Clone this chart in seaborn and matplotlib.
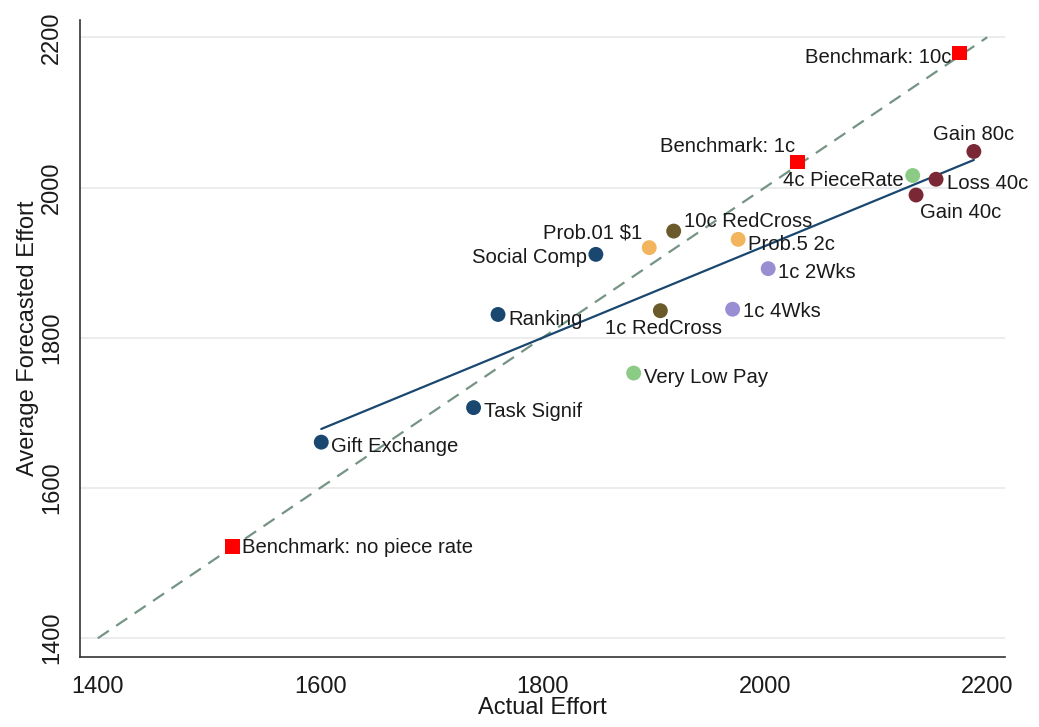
import matplotlib
matplotlib.use("Agg")
import matplotlib.pyplot as plt
import numpy as np
import pandas as pd
import seaborn as sns

# Treatment results: actual effort vs. average forecasted effort
treatments = ["Gift Exchange", "Task Signif", "Ranking", "Social Comp",
              "Very Low Pay", "Prob.01 $1", "1c RedCross", "10c RedCross",
              "1c 4Wks", "Prob.5 2c", "1c 2Wks", "4c PieceRate",
              "Gain 40c", "Loss 40c", "Gain 80c"]
actual = [1601, 1738, 1760, 1848, 1882, 1896, 1906, 1918,
          1971, 1976, 2003, 2133, 2136, 2154, 2188]
forecast = [1661, 1707, 1831, 1911, 1753, 1920, 1836, 1942,
            1838, 1931, 1892, 2016, 1990, 2011, 2048]
groups = ["psych", "psych", "psych", "psych",
          "pay", "prob", "charity", "charity",
          "time", "prob", "time", "pay",
          "frame", "frame", "frame"]

# Benchmark piece-rate treatments
bench_names = ["Benchmark: no piece rate", "Benchmark: 1c", "Benchmark: 10c"]
bench_actual = [1521, 2029, 2175]
bench_forecast = [1522, 2034, 2179]

group_colors = {"psych": "#1a476f", "prob": "#f2b45c", "charity": "#6b5a2a",
                "time": "#9a8ed2", "pay": "#8ccb85", "frame": "#7b2836"}

# Label placement: (dx, dy) in pixels, horizontal alignment, vertical alignment
label_pos = {
    "Gift Exchange": (10, -4, "left", "center"),
    "Task Signif": (10, -4, "left", "center"),
    "Ranking": (10, -5, "left", "center"),
    "Social Comp": (-9, -3, "right", "center"),
    "Very Low Pay": (10, -4, "left", "center"),
    "Prob.01 $1": (-7, 5, "right", "bottom"),
    "1c RedCross": (3, -8, "center", "top"),
    "10c RedCross": (10, 10, "left", "center"),
    "1c 4Wks": (10, -2, "left", "center"),
    "Prob.5 2c": (10, -5, "left", "center"),
    "1c 2Wks": (10, -4, "left", "center"),
    "4c PieceRate": (-9, -5, "right", "center"),
    "Gain 40c": (4, -8, "left", "top"),
    "Loss 40c": (11, -4, "left", "center"),
    "Gain 80c": (0, 7, "center", "bottom"),
    "Benchmark: no piece rate": (10, -1, "left", "center"),
    "Benchmark: 1c": (-2, 6, "right", "bottom"),
    "Benchmark: 10c": (-8, -4, "right", "center"),
}

df = pd.DataFrame({"actual": actual, "forecast": forecast,
                   "group": groups, "name": treatments})
bench = pd.DataFrame({"actual": bench_actual, "forecast": bench_forecast,
                      "name": bench_names})

sns.set_theme(style="white")
plt.rcParams["font.family"] = ["Liberation Sans", "DejaVu Sans"]

fig = plt.figure(figsize=(10.39, 7.27), dpi=100)
ax = fig.add_axes([80 / 1039, 70 / 727, 925 / 1039, 637 / 727])

# Horizontal gridlines
for yv in [1400, 1600, 1800, 2000, 2200]:
    ax.axhline(yv, color="#e6e9eb", lw=1.2, zorder=0)

# 45-degree line
diag = np.array([1400, 2200])
ax.plot(diag, diag, ls=(0, (6, 4)), color="#759484", lw=1.6, zorder=1)

# Linear fit through the treatment points
sns.regplot(data=df, x="actual", y="forecast", ci=None, truncate=True,
            scatter=False, ax=ax,
            line_kws={"color": "#1a476f", "lw": 1.6, "zorder": 2})

sns.scatterplot(data=df, x="actual", y="forecast", hue="group",
                palette=group_colors, s=115, edgecolor="none",
                legend=False, ax=ax, zorder=3)
sns.scatterplot(data=bench, x="actual", y="forecast", marker="s",
                color="#ff0000", s=115, edgecolor="none", ax=ax, zorder=3)

for d in (df, bench):
    for _, r in d.iterrows():
        dx, dy, ha, va = label_pos[r["name"]]
        ax.annotate(r["name"], (r["actual"], r["forecast"]),
                    xytext=(dx, dy), textcoords="offset pixels",
                    ha=ha, va=va, fontsize=14.6, color="#1a1a1a", zorder=4)

ax.set_xlim(1384, 2216)
ax.set_ylim(1375, 2223)
ax.set_xticks([1400, 1600, 1800, 2000, 2200])
ax.set_yticks([1400, 1600, 1800, 2000, 2200])
ax.tick_params(axis="both", direction="out", length=7, width=1.2,
               labelsize=17, colors="#1a1a1a", pad=5)
ax.tick_params(axis="x", pad=7)
ax.tick_params(axis="y", labelrotation=90)
for lbl in ax.get_yticklabels():
    lbl.set_va("center")
ax.set_xlabel("Actual Effort", fontsize=17, labelpad=-1, color="#1a1a1a")
ax.set_ylabel("Average Forecasted Effort", fontsize=17, labelpad=2,
              color="#1a1a1a")

for side in ["top", "right"]:
    ax.spines[side].set_visible(False)
for side in ["left", "bottom"]:
    ax.spines[side].set_color("#333333")
    ax.spines[side].set_linewidth(1.2)

fig.savefig("out.png", dpi=100, facecolor="white")
